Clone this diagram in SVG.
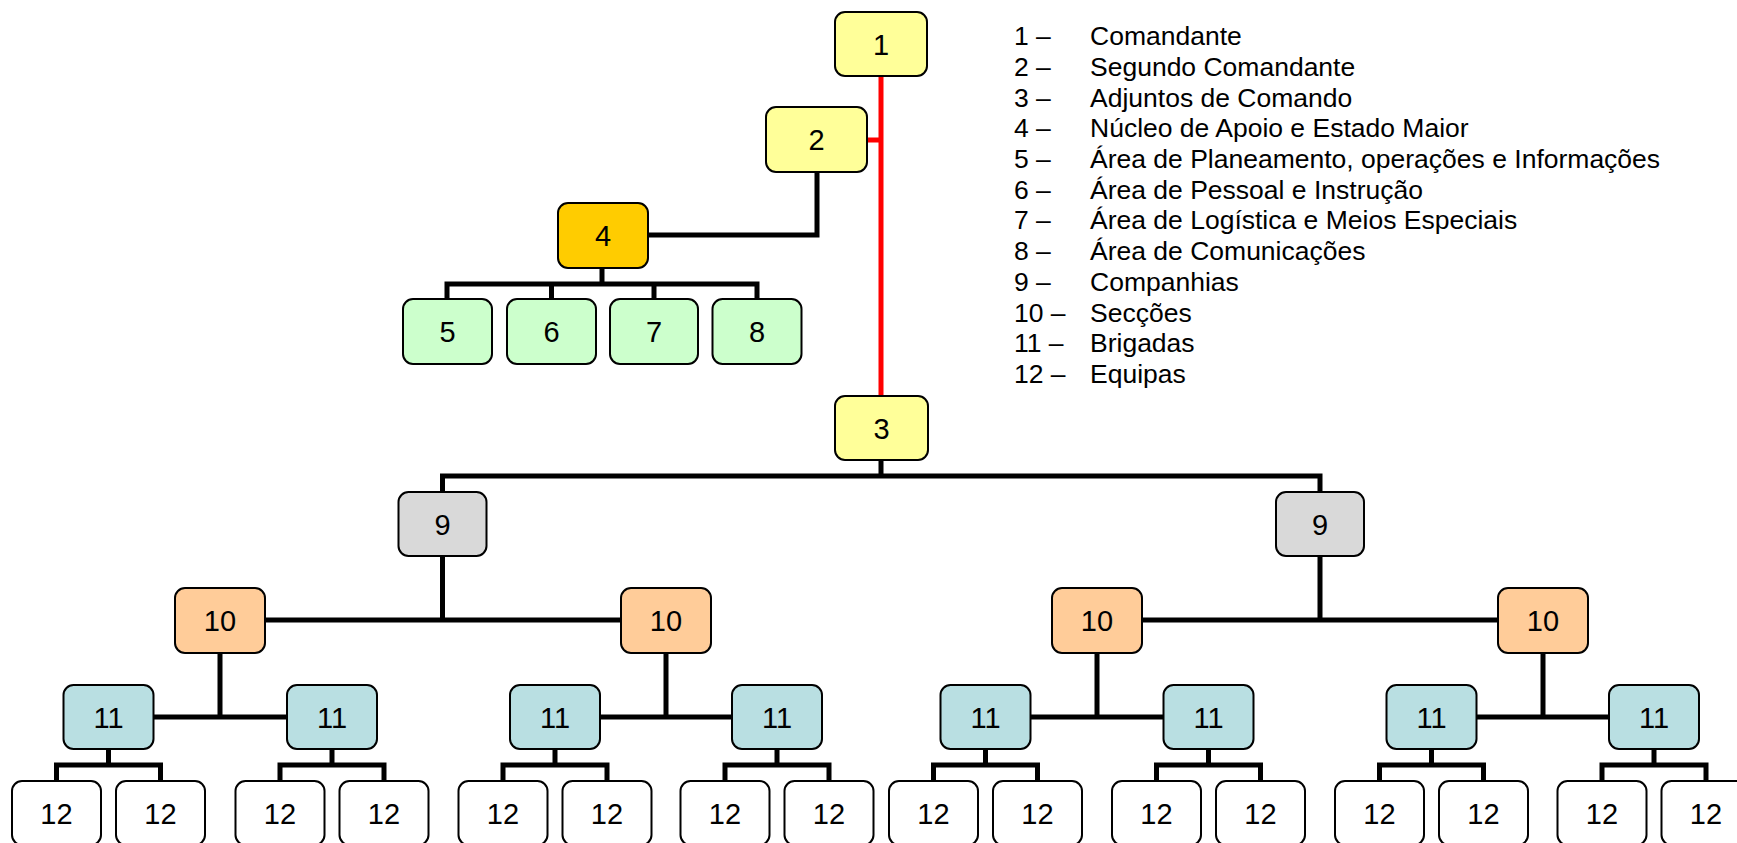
<svg xmlns="http://www.w3.org/2000/svg" width="1737" height="843" viewBox="0 0 1737 843">
<style>
.n rect{stroke:#000;stroke-width:2;}
.n text{font-family:"Liberation Sans",Arial,sans-serif;font-size:29px;fill:#000;text-anchor:middle;}
.y rect{fill:#FFFF99;}
.o rect{fill:#FFCC00;}
.g rect{fill:#CCFFCC;}
.s rect{fill:#D9D9D9;}
.p rect{fill:#FFCC99;}
.b rect{fill:#B9DFE2;}
.w rect{fill:#FFFFFF;}
.c path{fill:none;stroke:#000;stroke-width:5;}
.c path.r{stroke:#FF0000;}
.lg text{font-family:"Liberation Sans",Arial,sans-serif;font-size:26.5px;fill:#000;}
</style>
<rect width="1737" height="843" fill="#FFFFFF"/>
<g id="connectors" class="c">
<path class="r" d="M881,76V396M867,140H881"/>
<path d="M817,172V235H648"/>
<path d="M602,268V284M447,299V284H757V299M551.5,284V299M654,284V299"/>
<path d="M881,460V476M442.5,492V476H1320V492"/>
<path d="M442.5,556V620M265,620H621"/>
<path d="M1320,556V620M1142,620H1498"/>
<path d="M220,653V717M153.5,717H287"/>
<path d="M666,653V717M600,717H732"/>
<path d="M1097,653V717M1030.5,717H1163.5"/>
<path d="M1543,653V717M1476.5,717H1609"/>
<path d="M108.5,749V765M56.5,781V765H160.5V781"/>
<path d="M332,749V765M280,781V765H384V781"/>
<path d="M555,749V765M503,781V765H607V781"/>
<path d="M777,749V765M725,781V765H829V781"/>
<path d="M985.5,749V765M933.5,781V765H1037.5V781"/>
<path d="M1208.5,749V765M1156.5,781V765H1260.5V781"/>
<path d="M1431.5,749V765M1379.5,781V765H1483.5V781"/>
<path d="M1654,749V765M1602,781V765H1706V781"/>
</g>
<g id="n1" class="n y"><rect x="835" y="12" width="92" height="64" rx="10"/><text x="881" y="54.5">1</text></g>
<g id="n2" class="n y"><rect x="766" y="107" width="101" height="65" rx="10"/><text x="816.5" y="150">2</text></g>
<g id="n3" class="n y"><rect x="835" y="396" width="93" height="64" rx="10"/><text x="881.5" y="438.5">3</text></g>
<g id="n4" class="n o"><rect x="558" y="203" width="90" height="65" rx="10"/><text x="603" y="246">4</text></g>
<g id="n5" class="n g"><rect x="403" y="299" width="89" height="65" rx="10"/><text x="447.5" y="342">5</text></g>
<g id="n6" class="n g"><rect x="507" y="299" width="89" height="65" rx="10"/><text x="551.5" y="342">6</text></g>
<g id="n7" class="n g"><rect x="610" y="299" width="88" height="65" rx="10"/><text x="654" y="342">7</text></g>
<g id="n8" class="n g"><rect x="712.5" y="299" width="89" height="65" rx="10"/><text x="757" y="342">8</text></g>
<g id="n9a" class="n s"><rect x="398.5" y="492" width="88" height="64" rx="10"/><text x="442.5" y="534.5">9</text></g>
<g id="n9b" class="n s"><rect x="1276" y="492" width="88" height="64" rx="10"/><text x="1320" y="534.5">9</text></g>
<g id="n10a" class="n p"><rect x="175" y="588" width="90" height="65" rx="10"/><text x="220" y="631">10</text></g>
<g id="n10b" class="n p"><rect x="621" y="588" width="90" height="65" rx="10"/><text x="666" y="631">10</text></g>
<g id="n10c" class="n p"><rect x="1052" y="588" width="90" height="65" rx="10"/><text x="1097" y="631">10</text></g>
<g id="n10d" class="n p"><rect x="1498" y="588" width="90" height="65" rx="10"/><text x="1543" y="631">10</text></g>
<g id="n11a" class="n b"><rect x="63.5" y="685" width="90" height="64" rx="10"/><text x="108.5" y="727.5">11</text></g>
<g id="n11b" class="n b"><rect x="287" y="685" width="90" height="64" rx="10"/><text x="332" y="727.5">11</text></g>
<g id="n11c" class="n b"><rect x="510" y="685" width="90" height="64" rx="10"/><text x="555" y="727.5">11</text></g>
<g id="n11d" class="n b"><rect x="732" y="685" width="90" height="64" rx="10"/><text x="777" y="727.5">11</text></g>
<g id="n11e" class="n b"><rect x="940.5" y="685" width="90" height="64" rx="10"/><text x="985.5" y="727.5">11</text></g>
<g id="n11f" class="n b"><rect x="1163.5" y="685" width="90" height="64" rx="10"/><text x="1208.5" y="727.5">11</text></g>
<g id="n11g" class="n b"><rect x="1386.5" y="685" width="90" height="64" rx="10"/><text x="1431.5" y="727.5">11</text></g>
<g id="n11h" class="n b"><rect x="1609" y="685" width="90" height="64" rx="10"/><text x="1654" y="727.5">11</text></g>
<g id="n12a" class="n w"><rect x="12" y="781" width="89" height="64" rx="10"/><text x="56.5" y="823.5">12</text></g>
<g id="n12b" class="n w"><rect x="116" y="781" width="89" height="64" rx="10"/><text x="160.5" y="823.5">12</text></g>
<g id="n12c" class="n w"><rect x="235.5" y="781" width="89" height="64" rx="10"/><text x="280" y="823.5">12</text></g>
<g id="n12d" class="n w"><rect x="339.5" y="781" width="89" height="64" rx="10"/><text x="384" y="823.5">12</text></g>
<g id="n12e" class="n w"><rect x="458.5" y="781" width="89" height="64" rx="10"/><text x="503" y="823.5">12</text></g>
<g id="n12f" class="n w"><rect x="562.5" y="781" width="89" height="64" rx="10"/><text x="607" y="823.5">12</text></g>
<g id="n12g" class="n w"><rect x="680.5" y="781" width="89" height="64" rx="10"/><text x="725" y="823.5">12</text></g>
<g id="n12h" class="n w"><rect x="784.5" y="781" width="89" height="64" rx="10"/><text x="829" y="823.5">12</text></g>
<g id="n12i" class="n w"><rect x="889" y="781" width="89" height="64" rx="10"/><text x="933.5" y="823.5">12</text></g>
<g id="n12j" class="n w"><rect x="993" y="781" width="89" height="64" rx="10"/><text x="1037.5" y="823.5">12</text></g>
<g id="n12k" class="n w"><rect x="1112" y="781" width="89" height="64" rx="10"/><text x="1156.5" y="823.5">12</text></g>
<g id="n12l" class="n w"><rect x="1216" y="781" width="89" height="64" rx="10"/><text x="1260.5" y="823.5">12</text></g>
<g id="n12m" class="n w"><rect x="1335" y="781" width="89" height="64" rx="10"/><text x="1379.5" y="823.5">12</text></g>
<g id="n12n" class="n w"><rect x="1439" y="781" width="89" height="64" rx="10"/><text x="1483.5" y="823.5">12</text></g>
<g id="n12o" class="n w"><rect x="1557.5" y="781" width="89" height="64" rx="10"/><text x="1602" y="823.5">12</text></g>
<g id="n12p" class="n w"><rect x="1661.5" y="781" width="89" height="64" rx="10"/><text x="1706" y="823.5">12</text></g>
<g id="legend" class="lg">
<text x="1014" y="45">1 –</text><text x="1090" y="45">Comandante</text>
<text x="1014" y="75.7">2 –</text><text x="1090" y="75.7">Segundo Comandante</text>
<text x="1014" y="106.5">3 –</text><text x="1090" y="106.5">Adjuntos de Comando</text>
<text x="1014" y="137.2">4 –</text><text x="1090" y="137.2">Núcleo de Apoio e Estado Maior</text>
<text x="1014" y="167.9">5 –</text><text x="1090" y="167.9">Área de Planeamento, operações e Informações</text>
<text x="1014" y="198.6">6 –</text><text x="1090" y="198.6">Área de Pessoal e Instrução</text>
<text x="1014" y="229.4">7 –</text><text x="1090" y="229.4">Área de Logística e Meios Especiais</text>
<text x="1014" y="260.1">8 –</text><text x="1090" y="260.1">Área de Comunicações</text>
<text x="1014" y="290.8">9 –</text><text x="1090" y="290.8">Companhias</text>
<text x="1014" y="321.5">10 –</text><text x="1090" y="321.5">Secções</text>
<text x="1014" y="352.3">11 –</text><text x="1090" y="352.3">Brigadas</text>
<text x="1014" y="383">12 –</text><text x="1090" y="383">Equipas</text>
</g>
</svg>
